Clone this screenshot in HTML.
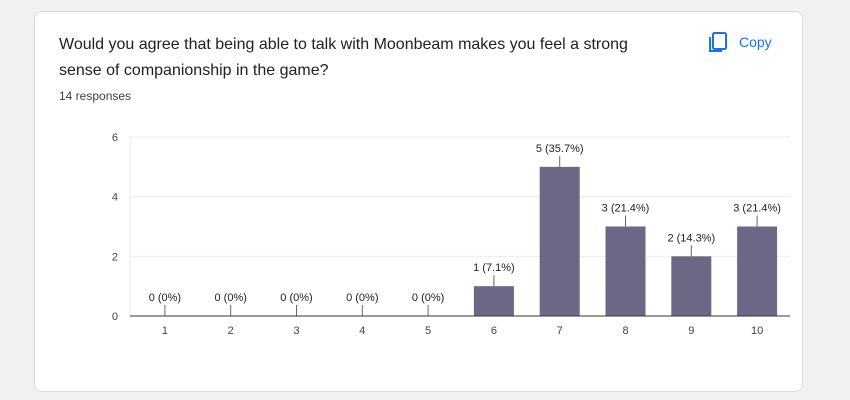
<!DOCTYPE html>
<html><head><meta charset="utf-8"><style>
body{margin:0;width:850px;height:400px;background:#f0f1f2;font-family:"Liberation Sans",Arial,sans-serif;position:relative;overflow:hidden}
.card{position:absolute;left:34px;top:11px;width:767px;height:379px;background:#fff;border:1px solid #dadce0;border-radius:8px}
.q{position:absolute;left:24px;top:20px;font-size:16px;line-height:26px;color:#202124;width:590px}
.resp{position:absolute;left:24px;top:77px;font-size:12px;color:#3c4043}
.copy{position:absolute;left:672px;top:19px;color:#1a73e8;font-size:14px;display:flex;align-items:center;gap:10px}
svg{position:absolute;left:0;top:0}
</style></head><body>
<div class="card">
<div class="q">Would you agree that being able to talk with Moonbeam makes you feel a strong sense of companionship in the game?</div>
<div class="resp">14 responses</div>
<div class="copy">
<svg style="position:static" width="22" height="22" viewBox="0 0 22 22"><rect x="6" y="2" width="13" height="16" rx="1.5" fill="none" stroke="#1a73e8" stroke-width="2"/><path d="M3 6v14h12" fill="none" stroke="#1a73e8" stroke-width="2"/></svg>
<span>Copy</span></div>
</div>
<svg id="chart" width="850" height="400"></svg>
<script>
const categories=["1","2","3","4","5","6","7","8","9","10"];
const counts=[0,0,0,0,0,1,5,3,2,3];
const labels=["0 (0%)","0 (0%)","0 (0%)","0 (0%)","0 (0%)","1 (7.1%)","5 (35.7%)","3 (21.4%)","2 (14.3%)","3 (21.4%)"];
const yTicks=[0,2,4,6];
const NS="http://www.w3.org/2000/svg",svg=document.getElementById('chart');
const L=132,R=790,T=137,B=316,yMax=6;
const y=v=>B-(v/yMax)*(B-T);
const step=(R-L)/categories.length;
const x=i=>L+step*(i+0.5);
function mk(t,a,txt){const e=document.createElementNS(NS,t);for(const k in a)e.setAttribute(k,a[k]);if(txt!=null)e.textContent=txt;svg.appendChild(e);return e;}
yTicks.forEach(v=>{
 const g=mk('line',{x1:130,x2:R,y1:y(v),y2:y(v),stroke:v?'#ebebeb':'#333','stroke-width':1});
 
 
 const t=mk('text',{x:118,y:y(v)+4,'font-size':11,fill:'#444','text-anchor':'end'},v);
 
 
});
mk('line',{x1:130,x2:130,y1:T,y2:B,stroke:'#ebebeb'});
categories.forEach((c,i)=>{
 const cx=x(i),top=y(counts[i]);
 if(counts[i]>0){
  const r=mk('rect',{x:cx-20,y:top,width:40,height:B-top,fill:'#6c6784'});
  
  
 }
 mk('line',{x1:cx,x2:cx,y1:top,y2:top-11,stroke:'#666'});
 const lb=mk('text',{x:cx,y:top-15,'font-size':11,fill:'#222','text-anchor':'middle'},labels[i]);
 
 
 const xt=mk('text',{x:cx,y:334,'font-size':11,fill:'#444','text-anchor':'middle'},c);
 
 
});
mk('line',{x1:130,x2:R,y1:B,y2:B,stroke:'#333'});
</script>
</body></html>
